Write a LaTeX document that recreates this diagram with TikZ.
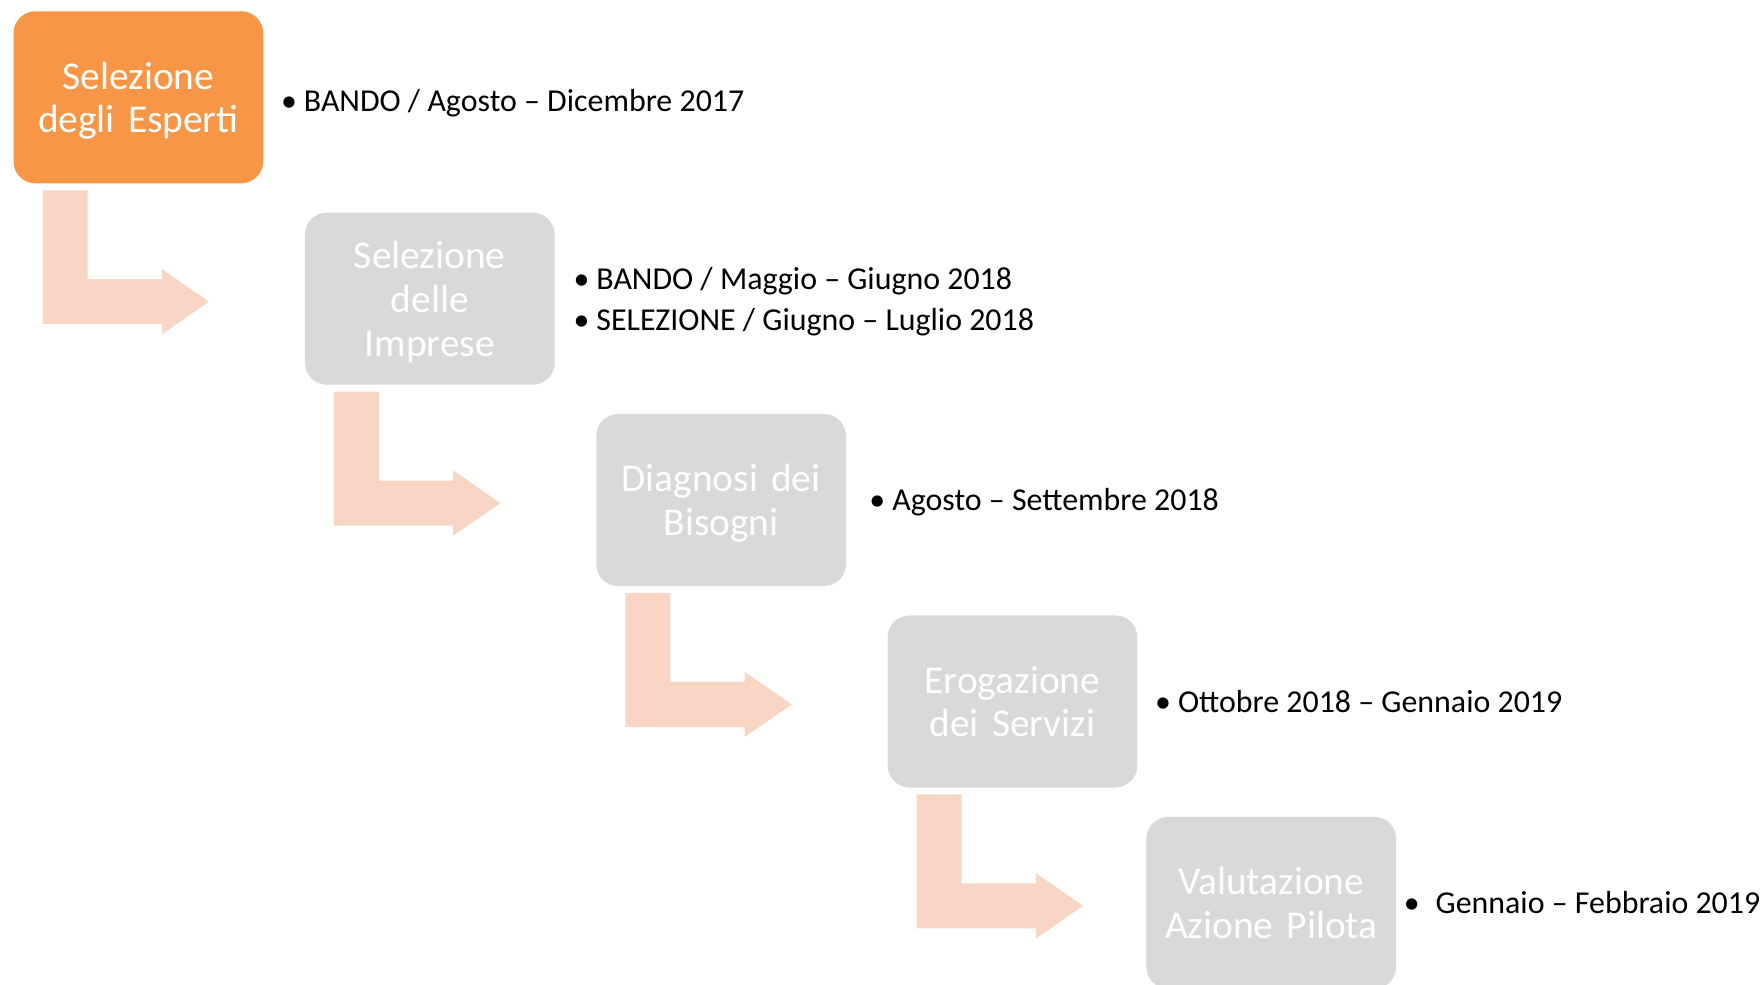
\documentclass[tikz,border=0pt]{standalone}
\usepackage{fontspec}
\setmainfont{Carlito}
\definecolor{orng}{HTML}{F79646}
\definecolor{boxgray}{HTML}{D9D9D9}
\definecolor{arrowfill}{HTML}{F9D5C4}
\begin{document}
\begin{tikzpicture}[x=1.125pt,y=-1.125pt,
 stage/.style={rounded corners=22pt, minimum width=249.75pt, minimum height=172.1pt,
   text width=245pt, align=center, text=white, inner sep=0pt,
   font=\fontsize{39.4}{43.9}\selectfont},
 active/.style={stage, fill=orng},
 idle/.style={stage, fill=boxgray},
 note/.style={anchor=base west, inner sep=0pt, font=\fontsize{31.9}{41.6}\selectfont},
 blockarrow/.style={fill=arrowfill}]
\useasboundingbox (0,0) rectangle (1568,875);
\clip (0,0) rectangle (1568,875);
% stages
\node[active] (b1) at (123,86.5) {Selezione\\\smash{degli Esperti}};
\node[idle] (b2) at (382,265.5) {Selezione\\delle\\\smash{Imprese}};
\node[idle] (b3) at (641,444.5) {Diagnosi dei\\\smash{Bisogni}};
\node[idle] (b4) at (900,623.5) {Erogazione\\\smash{dei Servizi}};
\node[idle] (b5) at (1130,802.5) {Valutazione\\\smash{Azione Pilota}};
% bent block arrows
\foreach \b in {b1,b2,b3,b4}{
  \fill[blockarrow, shift={(\b.south west)}] (26,6) -- (66,6) -- (66,85) -- (132,85)
     -- (132,76) -- (174,105) -- (132,134) -- (132,125) -- (26,125) -- cycle;
}
% notes
\node[note] (n1) at (270,99) {\llap{•\hspace{7pt}}BANDO / Agosto – Dicembre 2017};
\node[note] (n2a) at (530,257) {\llap{•\hspace{7pt}}BANDO / Maggio – Giugno 2018};
\node[note] (n2b) at (530,294) {\llap{•\hspace{7pt}}SELEZIONE / Giugno – Luglio 2018};
\node[note] (n3) at (793,454) {\llap{•\hspace{7pt}}Agosto – Settembre 2018};
\node[note] (n4) at (1047,633) {\llap{•\hspace{7pt}}Ottobre 2018 – Gennaio 2019};
\node[note] (n5) at (1276,812) {\llap{•\hspace{16pt}}Gennaio – Febbraio 2019};
\end{tikzpicture}
\end{document}
